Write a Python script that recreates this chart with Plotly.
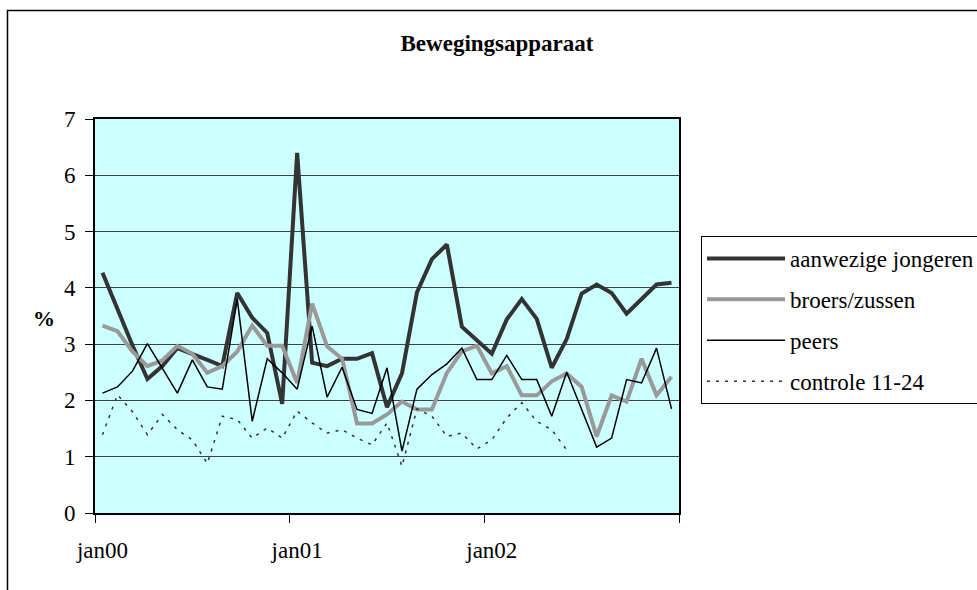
import plotly.graph_objects as go

# 4-weekly periods, 13 per year (2000-2002)
periods = list(range(39))
tick_positions = [0, 13, 26]
tick_labels = ["jan00", "jan01", "jan02"]

aanwezige = [4.27, 3.62, 2.98, 2.38, 2.61, 2.93, 2.83, 2.72, 2.61, 3.91, 3.47, 3.20, 1.94,
             6.40, 2.67, 2.61, 2.74, 2.74, 2.84, 1.88, 2.48, 3.92, 4.51, 4.77, 3.31, 3.08,
             2.83, 3.44, 3.80, 3.45, 2.58, 3.09, 3.90, 4.06, 3.91, 3.54, 3.80, 4.06, 4.09]
broers = [3.33, 3.23, 2.87, 2.61, 2.71, 2.97, 2.83, 2.49, 2.61, 2.87, 3.33, 2.97, 2.97,
          2.31, 3.72, 2.96, 2.74, 1.59, 1.59, 1.75, 1.98, 1.84, 1.84, 2.49, 2.87, 2.97,
          2.48, 2.61, 2.09, 2.09, 2.34, 2.48, 2.24, 1.36, 2.09, 1.98, 2.74, 2.09, 2.42]
peers = [2.13, 2.24, 2.52, 3.01, 2.57, 2.13, 2.72, 2.24, 2.20, 3.80, 1.63, 2.74, 2.49,
         2.20, 3.32, 2.06, 2.59, 1.84, 1.77, 2.58, 1.10, 2.20, 2.46, 2.65, 2.93, 2.37,
         2.37, 2.80, 2.37, 2.37, 1.72, 2.50, 1.84, 1.17, 1.33, 2.37, 2.31, 2.93, 1.85]
controle = [1.39, 2.10, 1.80, 1.39, 1.75, 1.48, 1.30, 0.88, 1.72, 1.66, 1.33, 1.51, 1.33,
            1.81, 1.60, 1.42, 1.48, 1.33, 1.21, 1.60, 0.83, 1.85, 1.72, 1.36, 1.42, 1.14,
            1.30, 1.69, 1.96, 1.63, 1.48, 1.12, None, None, None, None, None, None, None]

FONT = "Liberation Serif"

fig = go.Figure()
fig.add_trace(go.Scatter(x=periods, y=aanwezige, mode="lines", name="aanwezige jongeren",
                         legendgroup="a", line=dict(color="#333333", width=4)))
fig.add_trace(go.Scatter(x=periods, y=broers, mode="lines", name="broers/zussen",
                         legendgroup="b", line=dict(color="#999999", width=4)))
fig.add_trace(go.Scatter(x=periods, y=peers, mode="lines", name="peers",
                         legendgroup="c", line=dict(color="#000000", width=1.5)))
fig.add_trace(go.Scatter(x=periods, y=controle, mode="lines", name="controle 11-24",
                         legendgroup="d", connectgaps=False,
                         line=dict(color="#333333", width=1.5, dash="3px,6px")))

fig.update_layout(
    width=977, height=590,
    margin=dict(l=95, r=298, t=119, b=77, autoexpand=False),
    paper_bgcolor="white",
    plot_bgcolor="#CCFFFF",
    font=dict(family=FONT, size=23, color="black"),
    title=dict(text="Bewegingsapparaat", x=497 / 977, xanchor="center", xref="container",
               y=1 - 35 / 590, yanchor="top",
               font=dict(family=FONT, size=23, weight="bold", color="black")),
    showlegend=True,
    legend=dict(x=(701 - 95) / 584, xanchor="left", y=(513 - 236) / 394, yanchor="top",
                bgcolor="white", bordercolor="black", borderwidth=1,
                font=dict(family=FONT, size=23), tracegroupgap=8,
                itemwidth=78, entrywidth=270, traceorder="grouped"),
)

fig.update_xaxes(
    range=[-0.5, 38.5], tickvals=tick_positions, ticktext=tick_labels,
    ticks="", showgrid=False, zeroline=False,
    showline=True, linecolor="black", linewidth=2, mirror=True,
    ticklabelstandoff=15,
    minor=dict(tick0=-0.5, dtick=13, ticks="outside", ticklen=8, tickcolor="black",
               tickwidth=1, showgrid=False),
)
fig.update_yaxes(
    range=[0, 7], dtick=1, ticks="outside", ticklen=8, tickcolor="black", tickwidth=1,
    showgrid=True, gridcolor="#404040", gridwidth=1, zeroline=False,
    showline=True, linecolor="black", linewidth=2, mirror=True,
    ticklabelstandoff=5,
)

fig.add_annotation(text="<b>%</b>", xref="paper", yref="paper",
                   x=(31 - 95) / 584, y=(513 - 318) / 394, showarrow=False,
                   font=dict(family=FONT, size=22, color="black"))

# outer chart frame (extends beyond the visible window, as in the original)
fig.add_shape(type="rect", xref="paper", yref="paper",
              x0=(7.5 - 95) / 584, x1=(1000 - 95) / 584,
              y0=(513 - 620) / 394, y1=(513 - 10.5) / 394,
              line=dict(color="black", width=1.5), fillcolor="rgba(0,0,0,0)", layer="below")

fig.write_html("out.html", config={"displayModeBar": False},
               post_script="document.body.style.margin='0';document.body.style.overflow='hidden';")
